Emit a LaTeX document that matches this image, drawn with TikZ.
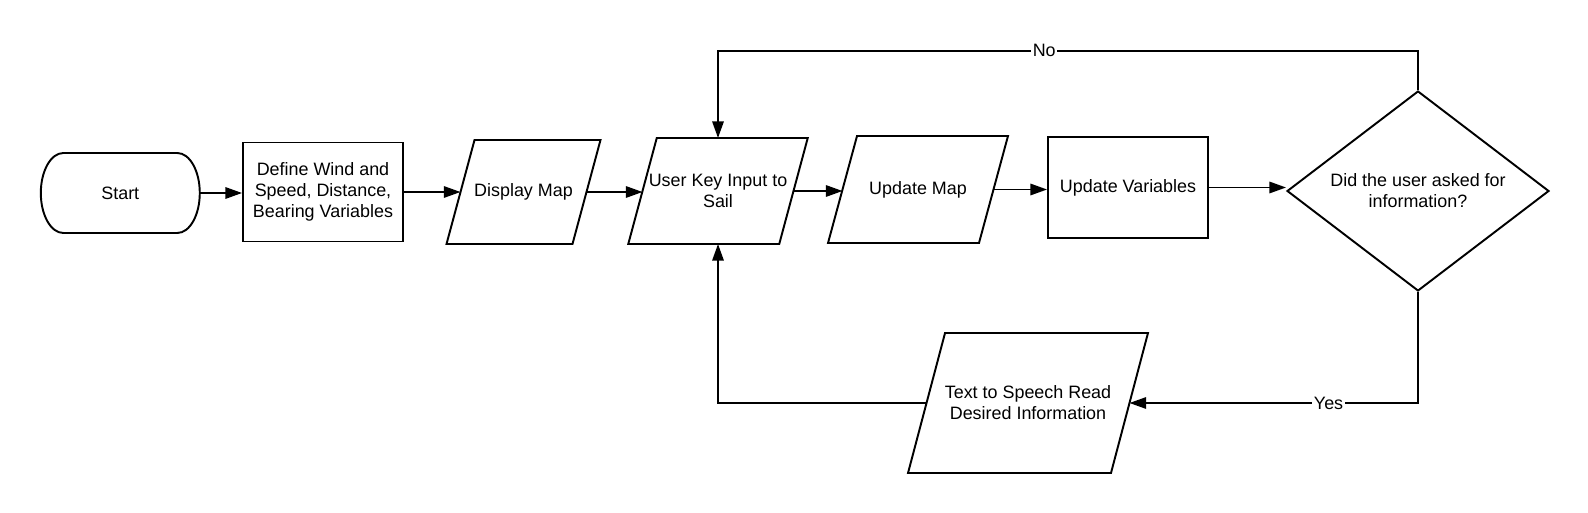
\documentclass[tikz,border=0pt]{standalone}
\usepackage{fontspec}
\setmainfont{Liberation Sans}
\usetikzlibrary{shapes.geometric,arrows.meta,calc}
\newcommand\pgramdraw[2]{\draw[line width=1.1pt] ([xshift=#2]#1.north west) -- ([xshift=#2]#1.north east) -- ([xshift=-#2]#1.south east) -- ([xshift=-#2]#1.south west) -- cycle;}
\begin{document}
\begin{tikzpicture}[x=0.02cm,y=-0.02cm,
 every node/.style={font=\fontsize{10.2pt}{12pt}\selectfont, align=center, line width=1.1pt},
 box/.style={draw, rectangle, minimum width=3.2cm, inner sep=2pt},
 io/.style={rectangle, inner sep=1pt, outer sep=0pt},
 decide/.style={draw, diamond, aspect=1.31, minimum width=5.24cm, minimum height=4cm, inner sep=1pt},
 arr/.style={line width=1.1pt, -{Triangle[length=9.5pt,width=6.5pt]}},
 lab/.style={fill=white, inner sep=1pt}
]
\fill[white] (0,0) rectangle (1588,513);
\useasboundingbox (0,0) rectangle (1588,513);

\node[minimum width=3.18cm, minimum height=1.6cm, outer sep=0pt] (start) at (120.3,193) {Start};
\draw[line width=1.1pt] ([xshift=0.45cm]start.north west) -- ([xshift=-0.45cm]start.north east)
  arc[start angle=90, end angle=-90, x radius=0.45cm, y radius=0.8cm]
  -- ([xshift=0.45cm]start.south west)
  arc[start angle=270, end angle=90, x radius=0.45cm, y radius=0.8cm] -- cycle;

\node[box, minimum height=1.98cm] (define) at (323,192) {Define Wind and\\Speed, Distance,\\Bearing Variables};
\node[io, minimum width=2.52cm, minimum height=2.08cm] (display) at (523.5,192) {Display Map};
\pgramdraw{display}{0.28cm}
\node[io, minimum width=3.02cm, minimum height=2.12cm] (userkey) at (718,191) {User Key Input to\\Sail};
\pgramdraw{userkey}{0.285cm}
\node[io, minimum width=3.02cm, minimum height=2.14cm] (updmap) at (918,189.5) {Update Map};
\pgramdraw{updmap}{0.29cm}
\node[box, minimum height=2.02cm] (updvars) at (1128,187.5) {Update Variables};
\node[decide] (decision) at (1418,191) {Did the user asked for\\information?};
\node[io, minimum width=4.06cm, minimum height=2.8cm] (tts) at (1028,403) {Text to Speech Read\\Desired Information};
\pgramdraw{tts}{0.37cm}

\coordinate (noy) at (0,50.7);

\draw[arr] (start.east) -- (define.west |- start.east);
\draw[arr] (define.east) -- (display.west |- define.east);
\draw[arr] (display.east) -- (userkey.west |- display.east);
\draw[arr] (userkey.east) -- (updmap.west |- userkey.east);
\draw[arr] (updmap.east) -- (updvars.west |- updmap.east);
\draw[arr] (updvars.east) -- (decision.west |- updvars.east);
\draw[arr] (decision.north) -- (decision.north |- noy) -- node[lab, pos=0.534]{No} (userkey.center |- noy) -- (userkey);
\draw[arr] (decision.south) -- (decision.south |- tts.center) -- node[lab, pos=0.31]{Yes} (tts);
\draw[arr] (tts) -- (userkey.center |- tts.center) -- (userkey);
\end{tikzpicture}
\end{document}
